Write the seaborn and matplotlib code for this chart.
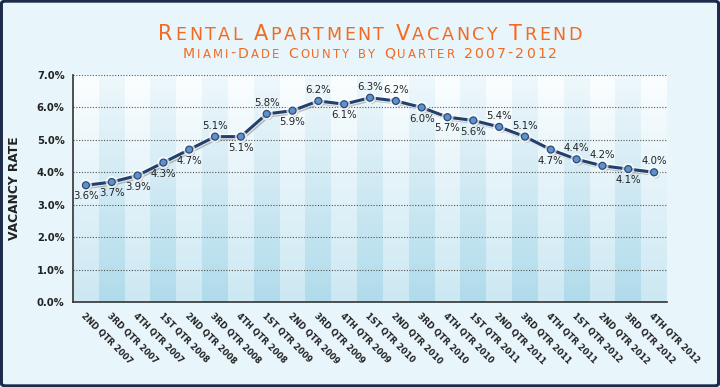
import numpy as np
import pandas as pd
import matplotlib
matplotlib.use('Agg')
import matplotlib.pyplot as plt
import seaborn as sns
from matplotlib.colors import LinearSegmentedColormap
from matplotlib.patches import FancyBboxPatch
from matplotlib.offsetbox import TextArea, HPacker, AnnotationBbox
import matplotlib.patheffects as pe

# данные
quarters = ['2nd Qtr 2007', '3rd Qtr 2007', '4th Qtr 2007',
            '1st Qtr 2008', '2nd Qtr 2008', '3rd Qtr 2008', '4th Qtr 2008',
            '1st Qtr 2009', '2nd Qtr 2009', '3rd Qtr 2009', '4th Qtr 2009',
            '1st Qtr 2010', '2nd Qtr 2010', '3rd Qtr 2010', '4th Qtr 2010',
            '1st Qtr 2011', '2nd Qtr 2011', '3rd Qtr 2011', '4th Qtr 2011',
            '1st Qtr 2012', '2nd Qtr 2012', '3rd Qtr 2012', '4th Qtr 2012']
vacancy = [3.6, 3.7, 3.9, 4.3, 4.7, 5.1, 5.1, 5.8, 5.9, 6.2, 6.1,
           6.3, 6.2, 6.0, 5.7, 5.6, 5.4, 5.1, 4.7, 4.4, 4.2, 4.1, 4.0]
y_ticks = [0, 1, 2, 3, 4, 5, 6, 7]

# где подпись: над точкой (1) или под ней (-1)
label_side = [-1, -1, -1, -1, -1, 1, -1, 1, -1, 1, -1,
              1, 1, -1, -1, -1, 1, 1, -1, 1, 1, -1, 1]

df = pd.DataFrame({'pos': np.arange(len(quarters)), 'rate': vacancy})

sns.set_style('white')
plt.rcParams['font.family'] = ['DejaVu Sans']

bg = '#e8f5fa'
navy = '#1c2b4b'
orange = '#f26b22'

fig = plt.figure(figsize=(7.2, 3.87), dpi=100, facecolor=bg)
ax = fig.add_axes([73 / 720, 85 / 387, 594 / 720, 227 / 387])
ax.set_facecolor('none')

# рамка
fig.add_artist(FancyBboxPatch((0.002, 0.003), 0.996, 0.994, boxstyle='round,pad=0,rounding_size=0.006',
                              transform=fig.transFigure, facecolor='none', edgecolor=navy,
                              linewidth=2.2, zorder=0))

# полосы-градиенты
light = LinearSegmentedColormap.from_list('light', ['#cce8f3', '#fbfeff'])
dark = LinearSegmentedColormap.from_list('dark', ['#b0dbeb', '#eff8fc'])
grad = np.linspace(1, 0, 256).reshape(-1, 1)
for i in range(len(quarters)):
    ax.imshow(grad, cmap=dark if i % 2 else light, aspect='auto',
              extent=(i - 0.5, i + 0.5, 0, 7), zorder=0, vmin=0, vmax=1)

# сетка
for t in y_ticks[1:]:
    ax.axhline(t, color='#555555', linestyle=(0, (1, 1.5)), linewidth=0.8, zorder=1)

# линия
sns.lineplot(data=df, x='pos', y='rate', ax=ax, color='#22406e', linewidth=2.2,
             marker='o', markersize=5, markerfacecolor='#5f92c8', markeredgecolor='#2a4c7c',
             markeredgewidth=0.9, zorder=3,
             path_effects=[pe.SimpleLineShadow(offset=(1.2, -1.5), alpha=0.3, shadow_color='#333333'),
                           pe.Stroke(linewidth=3.8, foreground='white', alpha=0.7),
                           pe.Normal()])

for i, v in enumerate(vacancy):
    ax.annotate(f'{v:.1f}%', (i, v), xytext=(0, 8 * label_side[i]), textcoords='offset points',
                ha='center', va='center', fontsize=7.3, color='#222222', zorder=4)

ax.set_xlim(-0.5, len(quarters) - 0.5)
ax.set_ylim(0, 7)
ax.set_yticks(y_ticks)
ax.set_yticklabels([f'{t:.1f}%' for t in y_ticks], fontsize=7.2, fontweight='bold', color='#222222')
ax.set_xticks(np.arange(len(quarters)))
ax.set_xticklabels([q.upper() for q in quarters], rotation=-45, ha='left', va='top',
                   rotation_mode='anchor', fontsize=6, fontweight='bold', color='#222222')
ax.set_xticks(np.arange(-0.5, len(quarters)), minor=True)
ax.tick_params(axis='x', which='major', length=0, pad=7)
ax.tick_params(axis='x', which='minor', length=4, width=1, color='#333333', direction='out')
ax.tick_params(axis='y', length=0, pad=6)
ax.set_xlabel('')
ax.set_ylabel('VACANCY RATE', fontsize=8.8, fontweight='bold', color='#222222', labelpad=11)

for s in ['top', 'right']:
    ax.spines[s].set_visible(False)
for s in ['left', 'bottom']:
    ax.spines[s].set_color('#333333')
    ax.spines[s].set_linewidth(1.2)
    ax.spines[s].set_zorder(5)


# заголовок капителью, по буквам, с разрядкой
def small_caps(text, big, small, color, sep=0):
    boxes = [TextArea(ch.upper(), textprops=dict(size=small if ch.islower() else big,
                                                 color=color, family='DejaVu Sans'))
             for ch in text]
    box = HPacker(children=boxes, align='baseline', pad=0, sep=sep)
    box.set_figure(fig)
    return box


renderer = fig.canvas.get_renderer()
for txt, y, big, small, target in [('Rental Apartment Vacancy Trend', 0.912, 15, 12.6, 423),
                                   ('Miami-Dade County by Quarter 2007-2012', 0.861, 10.2, 8.4, 374)]:
    base = small_caps(txt, big, small, orange).get_bbox(renderer).width
    sep = max(0, (target - base) / (len(txt) - 1)) * 72 / fig.dpi
    ab = AnnotationBbox(small_caps(txt, big, small, orange, sep), (370 / 720, y),
                        xycoords='figure fraction', frameon=False, box_alignment=(0.5, 0.5),
                        annotation_clip=False)
    ax.add_artist(ab)

fig.savefig('out.png', dpi=100, facecolor=bg)
